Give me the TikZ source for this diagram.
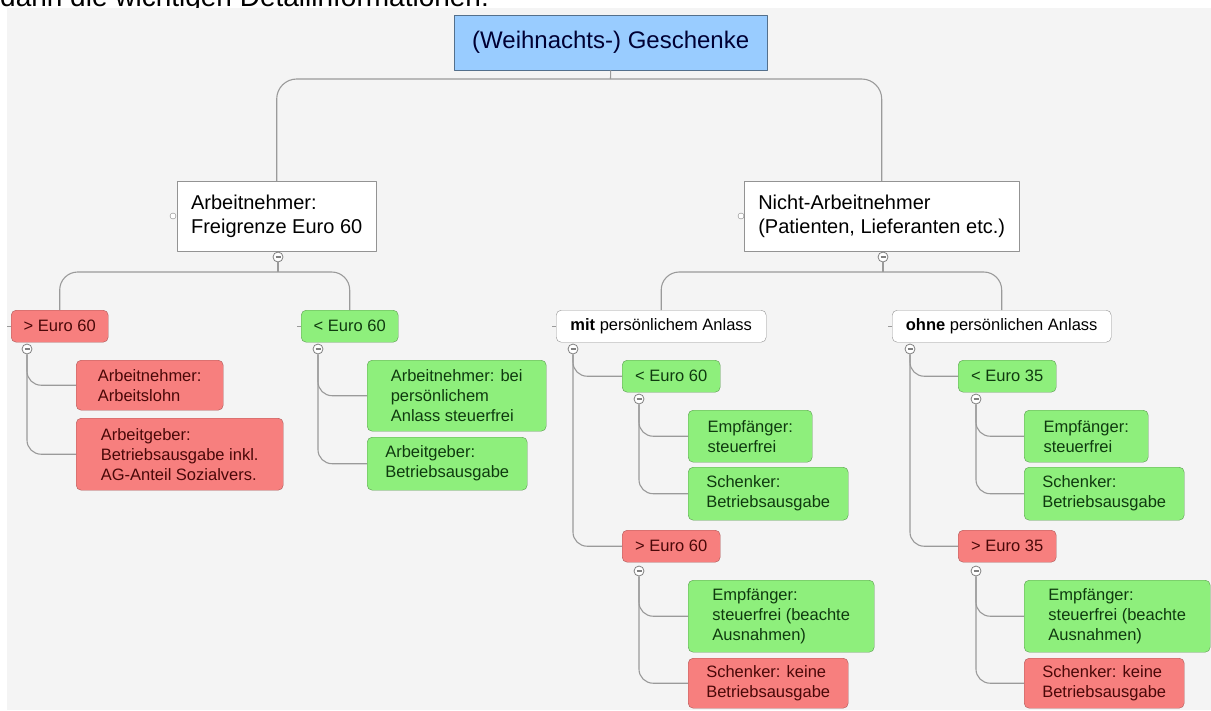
\documentclass[tikz,border=0pt]{standalone}
\usepackage{fontspec}
\setmainfont{Liberation Sans}
\definecolor{bgpanel}{HTML}{F4F4F4}
\definecolor{rootblue}{HTML}{99CCFF}
\definecolor{hotred}{HTML}{F77F7E}
\definecolor{okgreen}{HTML}{8EEF7C}
\definecolor{linegray}{HTML}{9A9A9A}
\definecolor{redtext}{HTML}{4A0808}
\definecolor{greentext}{HTML}{0F3A0F}

\begin{document}
\begin{tikzpicture}[x=1pt,y=-1pt,line join=round,
  conn/.style={draw=linegray,line width=1.1pt},
  topic/.style={draw=gray!85,fill=white,anchor=north west,align=left,inner sep=0pt,font=\fontsize{20}{24}\selectfont},
  sub/.style={draw=gray!85,fill=white,rounded corners=5pt,anchor=north west,align=left,inner sep=0pt,font=\fontsize{16.5}{20}\selectfont},
  redsub/.style={sub,fill=hotred,draw=hotred!70!black,text=redtext},
  greensub/.style={sub,fill=okgreen,draw=okgreen!65!black,text=greentext},
  minus/.style={circle,draw=gray,fill=white,minimum size=10pt,inner sep=0pt,line width=0.8pt,
    path picture={\draw[line width=1.5pt] ([xshift=-2.5pt]path picture bounding box.center) -- ([xshift=2.5pt]path picture bounding box.center);}},
  knob/.style={circle,draw=gray,fill=white,minimum size=6pt,inner sep=0pt}]
\useasboundingbox (0,0) rectangle (1211,710);
\begin{scope}
\clip (0,0) rectangle (1211,8);
\node[anchor=base west,inner sep=0pt,font=\fontsize{28}{30}\selectfont] (intro) at (0,6) {dann die wichtigen Detailinformationen:};
\end{scope}
\fill[bgpanel] (7,8) rectangle (1211,710);

% root
\node[draw=rootblue!55!black,fill=rootblue,anchor=north west,minimum width=313pt,minimum height=55pt,inner sep=0pt,
  font=\fontsize{24}{28}\selectfont,text=black!80!blue] (root) at (454,15) {(Weihnachts-) Geschenke};

% main topics
\node[topic,minimum width=199pt,minimum height=70pt] (arbeit) at (177,181) {Arbeitnehmer:\\Freigrenze Euro 60};
\node[topic,minimum width=275pt,minimum height=70pt] (nicht) at (744,181) {Nicht-Arbeitnehmer\\(Patienten, Lieferanten etc.)};
\node[knob] (knobA) at (173,216) {};
\node[knob] (knobN) at (741,216) {};

% Arbeitnehmer side
\node[redsub,minimum width=97pt,minimum height=32pt] (gtA) at (11,310) {> Euro 60};
\node[greensub,minimum width=97pt,minimum height=32pt] (ltA) at (301,310) {< Euro 60};
\node[redsub,minimum width=147pt,minimum height=50pt] (lohn) at (76,360) {Arbeitnehmer:\\Arbeitslohn};
\node[redsub,minimum width=207pt,minimum height=72pt] (agRed) at (76,418) {Arbeitgeber:\\Betriebsausgabe inkl.\\AG-Anteil Sozialvers.};
\node[greensub,minimum width=179pt,minimum height=71pt] (bei) at (367,360) {Arbeitnehmer: bei\\pers\"onlichem\\Anlass steuerfrei};
\node[greensub,minimum width=160pt,minimum height=53pt] (agGreen) at (367,437) {Arbeitgeber:\\Betriebsausgabe};

% Nicht-Arbeitnehmer side
\node[sub,minimum width=210pt,minimum height=32pt] (mit) at (556,310) {\textbf{mit} pers\"onlichem Anlass};
\node[sub,minimum width=219pt,minimum height=32pt] (ohne) at (892,310) {\textbf{ohne} pers\"onlichen Anlass};
\node[greensub,minimum width=98pt,minimum height=32pt] (ltM) at (622,360) {< Euro 60};
\node[greensub,minimum width=124pt,minimum height=52pt] (empfM) at (688,410) {Empf\"anger:\\steuerfrei};
\node[greensub,minimum width=160pt,minimum height=53pt] (schM) at (688,467) {Schenker:\\Betriebsausgabe};
\node[redsub,minimum width=98pt,minimum height=32pt] (gtM) at (622,530) {> Euro 60};
\node[greensub,minimum width=186pt,minimum height=72pt] (empfMx) at (688,580) {Empf\"anger:\\steuerfrei (beachte\\Ausnahmen)};
\node[redsub,minimum width=160pt,minimum height=50pt] (schMx) at (688,658) {Schenker: keine\\Betriebsausgabe};
\node[greensub,minimum width=98pt,minimum height=32pt] (ltO) at (958,360) {< Euro 35};
\node[greensub,minimum width=124pt,minimum height=52pt] (empfO) at (1024,410) {Empf\"anger:\\steuerfrei};
\node[greensub,minimum width=160pt,minimum height=53pt] (schO) at (1024,467) {Schenker:\\Betriebsausgabe};
\node[redsub,minimum width=98pt,minimum height=32pt] (gtO) at (958,530) {> Euro 35};
\node[greensub,minimum width=186pt,minimum height=72pt] (empfOx) at (1024,580) {Empf\"anger:\\steuerfrei (beachte\\Ausnahmen)};
\node[redsub,minimum width=160pt,minimum height=50pt] (schOx) at (1024,658) {Schenker: keine\\Betriebsausgabe};

% collapse buttons
\node[minus] (mArb) at (278,257) {};
\node[minus] (mNicht) at (883,257) {};
\node[minus] (mGtA) at (27,349) {};
\node[minus] (mLtA) at (318,349) {};
\node[minus] (mMit) at (573,349) {};
\node[minus] (mOhne) at (910,349) {};
\node[minus] (mLtM) at (639,399) {};
\node[minus] (mGtM) at (639,571) {};
\node[minus] (mLtO) at (976,399) {};
\node[minus] (mGtO) at (976,571) {};

% connectors
\coordinate (bus0) at (610.5,79);
\coordinate (busA) at (278,272);
\coordinate (busN) at (883,272);
\draw[conn] (root.south) -- (bus0);
\draw[conn,rounded corners=20pt] (arbeit.north) |- (bus0) -| (nicht.north);
\draw[conn] (mArb.south) -- (busA);
\draw[conn,rounded corners=18pt] (gtA.north) |- (busA) -| (ltA.north);
\draw[conn] (mNicht.south) -- (busN);
\draw[conn,rounded corners=18pt] (mit.north) |- (busN) -| (ohne.north);
\foreach \from/\to in {mGtA/lohn,mGtA/agRed,mLtA/bei,mLtA/agGreen,mMit/ltM,mMit/gtM,mLtM/empfM,mLtM/schM,
  mGtM/empfMx,mGtM/schMx,mOhne/ltO,mOhne/gtO,mLtO/empfO,mLtO/schO,mGtO/empfOx,mGtO/schOx}
  \draw[conn,rounded corners=14pt] (\from.south) |- (\to.west);
\foreach \n in {gtA,ltA,mit,ohne}
  \draw[conn] (\n.west) -- ++(-4,0);
\end{tikzpicture}
\end{document}
